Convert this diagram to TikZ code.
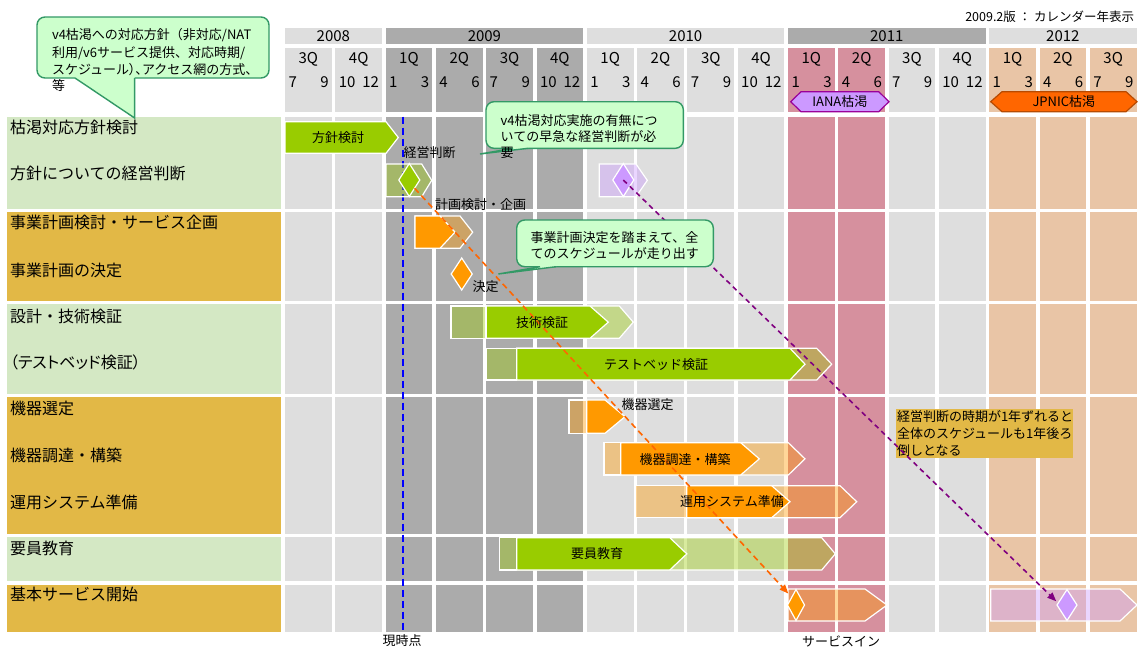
\documentclass[tikz,border=0pt]{standalone}
\usepackage{fontspec}
\setmainfont{Noto Sans CJK JP}
\usetikzlibrary{shapes.geometric,arrows.meta}
\definecolor{lgray}{HTML}{DEDEDE}
\definecolor{dgray}{HTML}{ABABAB}
\definecolor{pinkc}{HTML}{D6909E}
\definecolor{peach}{HTML}{E9C5A6}
\definecolor{lgreen}{HTML}{D4E8C4}
\definecolor{gold}{HTML}{E2B846}
\definecolor{bgreen}{HTML}{99CC00}
\definecolor{borange}{HTML}{FF9900}
\definecolor{lav}{HTML}{CC99FF}
\definecolor{purp}{HTML}{990099}
\definecolor{cfill}{HTML}{CCFFCC}
\definecolor{cline}{HTML}{339966}
\definecolor{jfill}{HTML}{FF6600}
\definecolor{jline}{HTML}{B84A00}
\definecolor{dashor}{HTML}{FF6600}
\definecolor{dashpu}{HTML}{800080}
\newcommand{\myfa}{\fontsize{16}{19}\selectfont}
\newcommand{\myfb}{\fontsize{13}{16}\selectfont}
\newcommand{\myfc}{\fontsize{15}{18}\selectfont}
\newcommand{\myfd}{\fontsize{12.5}{15}\selectfont}
\newcommand{\chev}[6]{\filldraw[#1] (#2,#5) -- (#3,#5) -- (#4,{(#5+#6)/2}) -- (#3,#6) -- (#2,#6) -- cycle;}
\newcommand{\boxr}[5]{\filldraw[#1] (#2,#4) rectangle (#3,#5);}
\begin{document}
\begin{tikzpicture}[x=1pt,y=-1pt,
  every node/.style={inner sep=0pt, outer sep=0pt},
  bar/.style={draw=white, line width=1.2pt, line join=miter},
  gp/.style={fill=bgreen, fill opacity=0.38},
  op/.style={fill=borange, fill opacity=0.4},
  pp/.style={fill=lav, fill opacity=0.4},
  dia/.style={shape=diamond, draw=white, line width=1.2pt},
  yr/.style={font=\myfc, minimum height=16pt},
  lab/.style={font=\myfa, anchor=west},
  btxt/.style={font=\myfb},
  ctxt/.style={font=\myfb, anchor=west},
  callout/.style={fill=cfill, draw=cline, line width=1.4pt},
  odash/.style={draw=dashor, line width=1.6pt, dash pattern=on 6pt off 4pt, -{Triangle[length=9pt,width=7pt]}, shorten >=5pt},
  pdash/.style={draw=dashpu, line width=1.6pt, dash pattern=on 5pt off 4pt, -{Triangle[length=9pt,width=7pt]}, shorten >=1pt},
  bdash/.style={draw=blue, line width=1.6pt, dash pattern=on 7pt off 4pt}
]
\useasboundingbox (0,0) rectangle (1139,648);
\fill[white] (0,0) rectangle (1139,648);

% ---------- grid columns ----------
\foreach \i/\q/\ma/\mb/\c in {0/3Q/7/9/lgray, 1/4Q/10/12/lgray, 2/1Q/1/3/dgray, 3/2Q/4/6/dgray, 4/3Q/7/9/dgray, 5/4Q/10/12/dgray, 6/1Q/1/3/lgray, 7/2Q/4/6/lgray, 8/3Q/7/9/lgray, 9/4Q/10/12/lgray, 10/1Q/1/3/pinkc, 11/2Q/4/6/pinkc, 12/3Q/7/9/lgray, 13/4Q/10/12/lgray, 14/1Q/1/3/peach, 15/2Q/4/6/peach, 16/3Q/7/9/peach}{
  \pgfmathsetmacro\xl{285+50.3*\i}
  \pgfmathsetmacro\xr{\xl+46.7}
  \pgfmathsetmacro\xm{\xl+23.35}
  \fill[\c] (\xl,48.3) rectangle (\xr,112.3);
  \foreach \ya/\yb in {116.5/208.5,212/300.5,304/393.5,397/533.5,537/581,584.5/631.5}{
    \fill[\c] (\xl,\ya) rectangle (\xr,\yb);}
  \node[font=\myfc] (q\i) at (\xm,59) {\q};
  \node[font=\myfc, anchor=west] (ma\i) at (\xl+3.5,82) {\ma};
  \node[font=\myfc, anchor=east] (mb\i) at (\xr-3,82) {\mb};
}

% ---------- year headers ----------
\node[yr, fill=lgray, minimum width=96.7pt] (y2008) at (333.35,36.3) {2008};
\node[yr, fill=dgray, minimum width=197.6pt] (y2009) at (484.4,36.3) {2009};
\node[yr, fill=lgray, minimum width=197.6pt] (y2010) at (685.6,36.3) {2010};
\node[yr, fill=dgray, minimum width=197.6pt] (y2011) at (886.8,36.3) {2011};
\node[yr, fill=lgray, minimum width=147.3pt] (y2012) at (1062.85,36.3) {2012};
\node[font=\myfd, anchor=east] (ver) at (1134,16.5) {2009.2版 ： カレンダー年表示};

% ---------- exhaustion markers ----------
\filldraw[fill=lav, draw=purp, line width=1.2pt] (790.7,101.7) -- (801,91.7) -- (878.7,91.7) -- (889,101.7) -- (878.7,111.7) -- (801,111.7) -- cycle;
\node[btxt] (iana) at (839.85,101.7) {IANA枯渇};
\filldraw[fill=jfill, draw=jline, line width=1.2pt] (990.7,101.7) -- (1002,91.7) -- (1126,91.7) -- (1137,101.7) -- (1126,111.7) -- (1002,111.7) -- cycle;
\node[btxt] (jpnic) at (1063.85,101.7) {JPNIC枯渇};

% ---------- row labels ----------
\fill[lgreen] (7.3,116.5) rectangle (280.7,208.5);
\fill[gold]   (7.3,212) rectangle (280.7,300.5);
\fill[lgreen] (7.3,304) rectangle (280.7,393.5);
\fill[gold]   (7.3,397) rectangle (280.7,533.5);
\fill[lgreen] (7.3,537) rectangle (280.7,581);
\fill[gold]   (7.3,584.5) rectangle (280.7,631.5);
\node[lab] (l1) at (10,127) {枯渇対応方針検討};
\node[lab] (l2) at (10,173) {方針についての経営判断};
\node[lab] (l3) at (10,222) {事業計画検討・サービス企画};
\node[lab] (l4) at (10,270) {事業計画の決定};
\node[lab] (l5) at (10,316) {設計・技術検証};
\node[lab] (l6) at (10,362) {{\addfontfeature{RawFeature=+palt}（テストベッド検証）}};
\node[lab] (l7) at (10,408) {機器選定};
\node[lab] (l8) at (10,455) {機器調達・構築};
\node[lab] (l9) at (10,502) {運用システム準備};
\node[lab] (l10) at (10,548) {要員教育};
\node[lab] (l11) at (10,594) {基本サービス開始};

% ---------- current time line ----------
\coordinate (nowtop) at (402.7,116.5);
\coordinate (nowbot) at (402.7,632);
\draw[bdash] (nowtop) -- (nowbot);

% ---------- bars ----------
\chev{bar,fill=bgreen}{285}{386}{398.3}{121.7}{153.3}
\chev{bar,gp}{386}{421.7}{431.7}{164}{196.7}
\chev{bar,pp}{599.3}{636}{647.3}{164}{196.7}
\chev{bar,op}{415}{460}{472.7}{216}{248.3}
\chev{bar,fill=borange}{415}{440}{455}{216}{248.3}
\chev{bar,gp}{486}{619.3}{633.3}{306}{338.3}
\chev{bar,fill=bgreen}{486}{590}{608.3}{306}{338.3}
\boxr{bar,gp}{451}{486}{306}{338.3}
\chev{bar,gp}{516.7}{816.7}{831.7}{348.3}{380}
\chev{bar,fill=bgreen}{516.7}{790}{805}{348.3}{380}
\boxr{bar,gp}{486}{516.7}{348.3}{380}
\boxr{bar,op}{569}{586.7}{400}{433.3}
\chev{bar,fill=borange}{586.7}{605}{625}{400}{433.3}
\boxr{bar,op}{604}{620.7}{442.7}{475}
\chev{bar,op}{620.7}{788.3}{805}{442.7}{475}
\chev{bar,fill=borange}{620.7}{740.7}{759.3}{442.7}{475}
\boxr{bar,op}{635}{686.7}{485.7}{517.7}
\chev{bar,op}{686.7}{840}{856.7}{485.7}{517.7}
\chev{bar,fill=borange}{686.7}{771.7}{790}{485.7}{517.7}
\boxr{bar,gp}{499.3}{516.7}{537.7}{570}
\chev{bar,gp}{516.7}{821.7}{835.3}{537.7}{570}
\chev{bar,fill=bgreen}{516.7}{669.8}{686.8}{537.7}{570}
\chev{bar,op}{788}{865}{887}{589}{621}
\chev{bar,pp}{990.7}{1120}{1137}{589}{621}

% ---------- milestones ----------
\node[dia, fill=bgreen, minimum width=21pt, minimum height=33pt] (gd) at (409.3,180) {};
\node[dia, fill=lav, minimum width=21pt, minimum height=33pt] (pd1) at (623.3,180) {};
\node[dia, fill=borange, minimum width=21pt, minimum height=32pt] (od) at (461.7,274) {};
\node[dia, fill=borange, minimum width=17pt, minimum height=31pt] (sd) at (796,605) {};
\node[dia, fill=lav, minimum width=20pt, minimum height=31pt] (pd2) at (1067,605) {};

% ---------- yellow note ----------
\fill[gold] (896,409.3) rectangle (1072.7,457.7);
\node[ctxt] (n1) at (897,416.7) {経営判断の時期が1年ずれると};
\node[ctxt] (n2) at (897,434) {全体のスケジュールも1年後ろ};
\node[ctxt] (n3) at (897,450.7) {倒しとなる};

% ---------- dependency arrows ----------
\draw[odash] (gd.south east) -- (sd.north west);
\draw[pdash] (pd1.center) -- ([yshift=3pt]pd2.west);

% ---------- bar texts ----------
\node[btxt] (t1) at (338,138) {方針検討};
\node[btxt] (t2) at (429.5,153) {経営判断};
\node[btxt] (t3) at (480.5,205) {計画検討・企画};
\node[btxt] (t4) at (485.5,287) {決定};
\node[btxt] (t5) at (542,323) {技術検証};
\node[btxt] (t6) at (656,365) {テストベッド検証};
\node[btxt] (t7) at (647.5,405) {機器選定};
\node[btxt] (t8) at (685,460) {機器調達・構築};
\node[btxt] (t9) at (732,502) {運用システム準備};
\node[btxt] (t10) at (597,554) {要員教育};
\node[btxt] (t11) at (402,641) {現時点};
\node[btxt] (t12) at (841,641) {サービスイン};

% ---------- callout 1 ----------
\filldraw[callout, rounded corners=8pt] (37,17) rectangle (269,78);
\fill[cfill] (75,76.4) -- (75,78) -- (134.6,118) -- (134.6,76.4) -- cycle;
\draw[cline, line width=1.4pt, line join=miter] (75,78) -- (134.6,118) -- (134.6,78);
\node[ctxt] (c1a) at (52,35) {v4枯渇への対応方針（非対応/NAT};
\node[ctxt] (c1b) at (52,53) {利用/v6サービス提供、対応時期/};
\node[ctxt] (c1c) at (52,70) {スケジュール{\addfontfeature{RawFeature=+palt}）、}アクセス網の方式、};
\node[ctxt] (c1d) at (52,86) {等};

% ---------- callout 2 ----------
\filldraw[callout, rounded corners=8pt] (486,101.7) rectangle (683.3,148.3);
\fill[cfill] (513,146.7) -- (513,148.3) -- (480,154) -- (528,148.3) -- (528,146.7) -- cycle;
\draw[cline, line width=1.4pt, line join=miter] (513,148.3) -- (480,154) -- (528,148.3);
\node[ctxt] (c2a) at (500.7,120.7) {v4枯渇対応実施の有無につ};
\node[ctxt] (c2b) at (500.7,136.7) {いての早急な経営判断が必};
\node[ctxt] (c2c) at (500.7,152.7) {要};

% ---------- callout 3 ----------
\filldraw[callout, rounded corners=8pt] (516.7,220) rectangle (713.3,266.7);
\fill[cfill] (540,265.1) -- (540,266.7) -- (498.3,274) -- (556,266.7) -- (556,265.1) -- cycle;
\draw[cline, line width=1.4pt, line join=miter] (540,266.7) -- (498.3,274) -- (556,266.7);
\node[ctxt] (c3a) at (530.7,237.3) {事業計画決定を踏まえて、全};
\node[ctxt] (c3b) at (530.7,253.3) {てのスケジュールが走り出す};
\end{tikzpicture}
\end{document}
